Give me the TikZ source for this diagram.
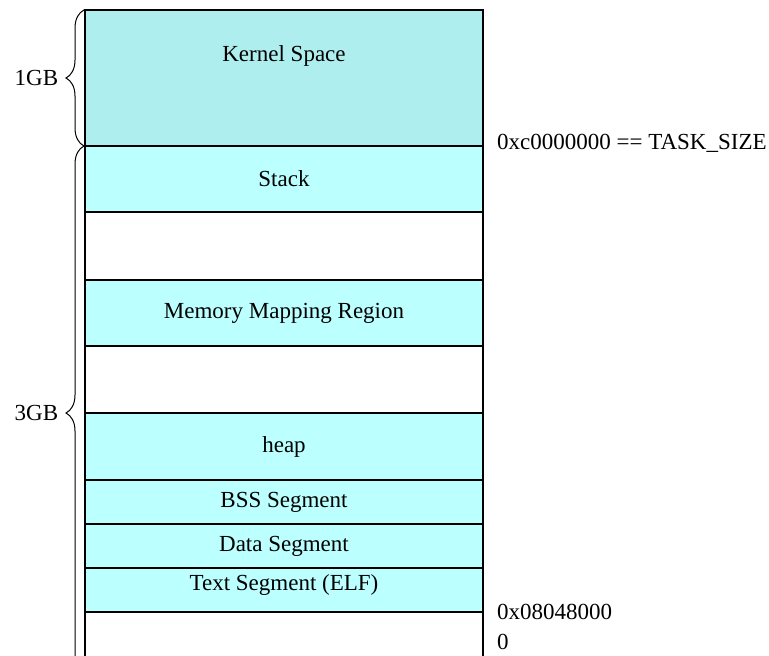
\documentclass[tikz,border=0pt]{standalone}
\usepackage{fontspec}
\setmainfont{Liberation Serif}
\usetikzlibrary{positioning, decorations.pathreplacing}

\definecolor{kernelfill}{HTML}{AFEEEE}
\definecolor{userfill}{HTML}{BBFFFF}

\begin{document}
\begin{tikzpicture}[
    x=1pt, y=-1pt,
    every node/.style={
      font=\fontsize{23}{27}\selectfont,
      align=center
    },
    segbox/.style={
      draw,
      rectangle,
      line width=2pt,
      outer sep=0pt,
      minimum width=398pt,
      fill=userfill
    },
    gapbox/.style={segbox, fill=white},
    kernelbox/.style={segbox, fill=kernelfill},
    addr/.style={anchor=west, inner sep=1pt},
    sizebrace/.style={draw, line width=1pt, decorate,
      decoration={brace, amplitude=18pt}}
  ]
    \useasboundingbox (0,0) rectangle (769,656);

    \node[kernelbox, minimum height=136pt, text depth=49pt] (kernel) at (284,78) {Kernel Space};
    \node[segbox, minimum height=66pt, below=0pt of kernel] (stack) {Stack};
    \node[gapbox, minimum height=68pt, below=0pt of stack] (gapa) {};
    \node[segbox, minimum height=66pt, below=0pt of gapa] (mmap) {Memory Mapping Region};
    \node[gapbox, minimum height=67pt, below=0pt of mmap] (gapb) {};
    \node[segbox, minimum height=67pt, below=0pt of gapb] (heap) {heap};
    \node[segbox, minimum height=44pt, below=0pt of heap] (bss) {BSS Segment};
    \node[segbox, minimum height=44pt, below=0pt of bss] (data) {Data Segment};
    \node[segbox, minimum height=44pt, below=0pt of data, text depth=15pt] (text) {Text Segment (ELF)};
    \node[gapbox, minimum height=68pt, below=0pt of text] (bottom) {};

    % sizes
    \draw[sizebrace] ([xshift=-1pt]kernel.south west) -- ([xshift=-1pt]kernel.north west)
      node[midway, left=22pt] (onegb) {1GB};
    \draw[sizebrace] ([xshift=-1pt]bottom.south west) -- ([xshift=-1pt]stack.north west)
      node[midway, left=22pt] (threegb) {3GB};

    % addresses
    \node[addr, right=13pt of kernel.south east, yshift=3pt] (tasksize) {0xc0000000 == TASK\_SIZE};
    \node[addr, right=13pt of text.south east] (elfstart) {0x08048000};
    \node[addr, right=13pt of bottom.east, yshift=4pt] (zero) {0};
\end{tikzpicture}
\end{document}
